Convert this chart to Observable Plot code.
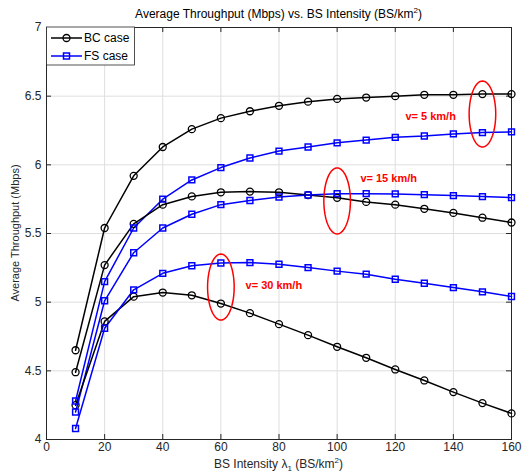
<!DOCTYPE html>
<html><head><meta charset="utf-8">
<script src="https://cdn.jsdelivr.net/npm/d3@7"></script>
<script src="https://cdn.jsdelivr.net/npm/@observablehq/plot@0.6"></script>
<style>
body{margin:0;background:#fff}
svg{font-family:"Liberation Sans",Arial,Helvetica,sans-serif}
</style>
</head><body><div id="chart"></div>
<script>
// ---- data ----
const intensity = [10,20,30,40,50,60,70,80,90,100,110,120,130,140,150,160];
const bc5  = [4.65,5.54,5.92,6.13,6.26,6.34,6.39,6.43,6.46,6.48,6.49,6.50,6.51,6.51,6.515,6.515];
const fs5  = [4.28,5.15,5.54,5.75,5.89,5.98,6.05,6.10,6.13,6.16,6.18,6.20,6.21,6.225,6.235,6.24];
const bc15 = [4.49,5.27,5.57,5.71,5.77,5.80,5.805,5.80,5.78,5.76,5.73,5.71,5.68,5.65,5.615,5.58];
const fs15 = [4.20,5.01,5.36,5.54,5.64,5.71,5.74,5.766,5.78,5.79,5.79,5.788,5.783,5.776,5.769,5.761];
const bc30 = [4.25,4.86,5.04,5.07,5.05,4.99,4.92,4.84,4.76,4.675,4.595,4.51,4.43,4.345,4.265,4.19];
const fs30 = [4.08,4.81,5.09,5.21,5.265,5.285,5.288,5.276,5.252,5.226,5.204,5.167,5.138,5.106,5.075,5.041];
const xTicks = [0,20,40,60,80,100,120,140,160];
const yTicks = [4,4.5,5,5.5,6,6.5,7];
const yTickLabels = ["4","4.5","5","5.5","6","6.5","7"];
const caseNames = ["BC case","FS case"];
const annLabels = ["v= 5 km/h","v= 15 km/h","v= 30 km/h"];
const annCx = [150,100,60];
const annCy = [6.37,5.737,5.11];
const annTx = [123.5,108,68.5];
const annTy = [6.355,5.90,5.12];

// ---- build ----
const series = [
  {c:"BC", v:5, vals:bc5},{c:"FS", v:5, vals:fs5},
  {c:"BC", v:15, vals:bc15},{c:"FS", v:15, vals:fs15},
  {c:"BC", v:30, vals:bc30},{c:"FS", v:30, vals:fs30}
];
const rows = series.flatMap(s => s.vals.map((y,i)=>({x:intensity[i], y, c:s.c, id:s.c+s.v})));
const ann = annLabels.map((label,i)=>({label, cx:annCx[i], cy:annCy[i], tx:annTx[i], ty:annTy[i]}));

const W=522, H=474, mL=46, mR=11, mT=27, mB=35;
const fw = W-mL-mR, fh = H-mT-mB;
const rxPx = 13.3, ryPx = 33;
const xPerPx = 160/fw, yPerPx = 3/fh;
const ell = ann.flatMap(a => d3.range(0,73).map(k=>{
  const t = k/72*2*Math.PI;
  return {label:a.label, x:a.cx + rxPx*xPerPx*Math.cos(t), y:a.cy + ryPx*yPerPx*Math.sin(t)};
}));

const axisColor="#262626";
const plot = Plot.plot({
  width:W, height:H, marginLeft:mL, marginRight:mR, marginTop:mT, marginBottom:mB,
  style:{fontFamily:'"Liberation Sans",Arial,sans-serif', background:"#fff"},
  x:{domain:[0,160]}, y:{domain:[4,7]},
  color:{domain:["BC","FS"], range:["#000000","#0000ff"]},
  marks:[
    Plot.gridX(xTicks,{stroke:"#dedede", strokeOpacity:1}),
    Plot.gridY(yTicks,{stroke:"#dedede", strokeOpacity:1}),
    Plot.ruleX(xTicks,{insetTop:fh-5, stroke:axisColor}),
    Plot.ruleX(xTicks,{insetBottom:fh-5, stroke:axisColor}),
    Plot.ruleY(yTicks,{insetRight:fw-5, stroke:axisColor}),
    Plot.ruleY(yTicks,{insetLeft:fw-5, stroke:axisColor}),
    Plot.frame({stroke:axisColor, strokeWidth:1}),
    Plot.axisX(xTicks,{tickSize:0, tickPadding:3, fontSize:12, fill:axisColor, label:null}),
    Plot.axisY(yTicks,{tickSize:0, tickPadding:5, fontSize:12, fill:axisColor, label:null,
      tickFormat:d=>yTickLabels[yTicks.indexOf(d)]}),
    Plot.line(rows,{x:"x", y:"y", z:"id", stroke:"c", strokeWidth:1.5}),
    Plot.dot(rows.filter(d=>d.c==="BC"),{x:"x", y:"y", r:3.5, stroke:"#000", fill:"none", strokeWidth:1.3}),
    Plot.dot(rows.filter(d=>d.c==="FS"),{x:"x", y:"y", symbol:"square", r:3.3, stroke:"#0000ff", fill:"none", strokeWidth:1.5}),
    Plot.line(ell,{x:"x", y:"y", z:"label", stroke:"#ff0000", strokeWidth:1.5}),
    Plot.text(ann,{x:"tx", y:"ty", text:"label", textAnchor:"start", fill:"#ff0000", fontWeight:"bold", fontSize:11})
  ]
});
document.getElementById("chart").appendChild(plot);

const svg = d3.select(plot);
// title
const t = svg.append("text").attr("x", mL+fw/2).attr("y", 18).attr("text-anchor","middle")
  .attr("font-size",12).attr("fill","#000");
t.append("tspan").text("Average Throughput (Mbps) vs. BS Intensity (BS/km");
t.append("tspan").attr("dy",-5).attr("font-size",8).text("2");
t.append("tspan").attr("dy",5).text(")");
// x label
const xl = svg.append("text").attr("x", mL+fw/2).attr("y", 468).attr("text-anchor","middle")
  .attr("font-size",12).attr("fill",axisColor);
xl.append("tspan").text("BS Intensity ");
xl.append("tspan").text("λ");
xl.append("tspan").attr("dy",3).attr("font-size",8).text("1");
xl.append("tspan").attr("dy",-3).text(" (BS/km");
xl.append("tspan").attr("dy",-5).attr("font-size",8).text("2");
xl.append("tspan").attr("dy",5).text(")");
// y label
svg.append("text").attr("transform",`translate(19,${mT+fh/2}) rotate(-90)`).attr("text-anchor","middle")
  .attr("font-size",11).attr("fill",axisColor).text("Average Throughput (Mbps)");
// legend
const lg = svg.append("g").attr("transform",`translate(${mL},${mT})`);
lg.append("rect").attr("x",0.5).attr("y",0).attr("width",88).attr("height",38)
  .attr("fill","#fff").attr("stroke",axisColor).attr("stroke-width",0.8);
const legendRows=[{name:caseNames[0], color:"#000", sym:"circle", y:11},{name:caseNames[1], color:"#0000ff", sym:"square", y:29}];
legendRows.forEach(r=>{
  lg.append("line").attr("x1",5).attr("x2",36).attr("y1",r.y).attr("y2",r.y).attr("stroke",r.color).attr("stroke-width",1.5);
  if(r.sym==="circle") lg.append("circle").attr("cx",20.5).attr("cy",r.y).attr("r",3.5).attr("fill","none").attr("stroke",r.color).attr("stroke-width",1.3);
  else lg.append("rect").attr("x",17.5).attr("y",r.y-3).attr("width",6).attr("height",6).attr("fill","none").attr("stroke",r.color).attr("stroke-width",1.5);
  lg.append("text").attr("x",38).attr("y",r.y+4.3).attr("text-anchor","start").attr("font-size",12).attr("fill","#000").text(r.name);
});
</script>
</body></html>
